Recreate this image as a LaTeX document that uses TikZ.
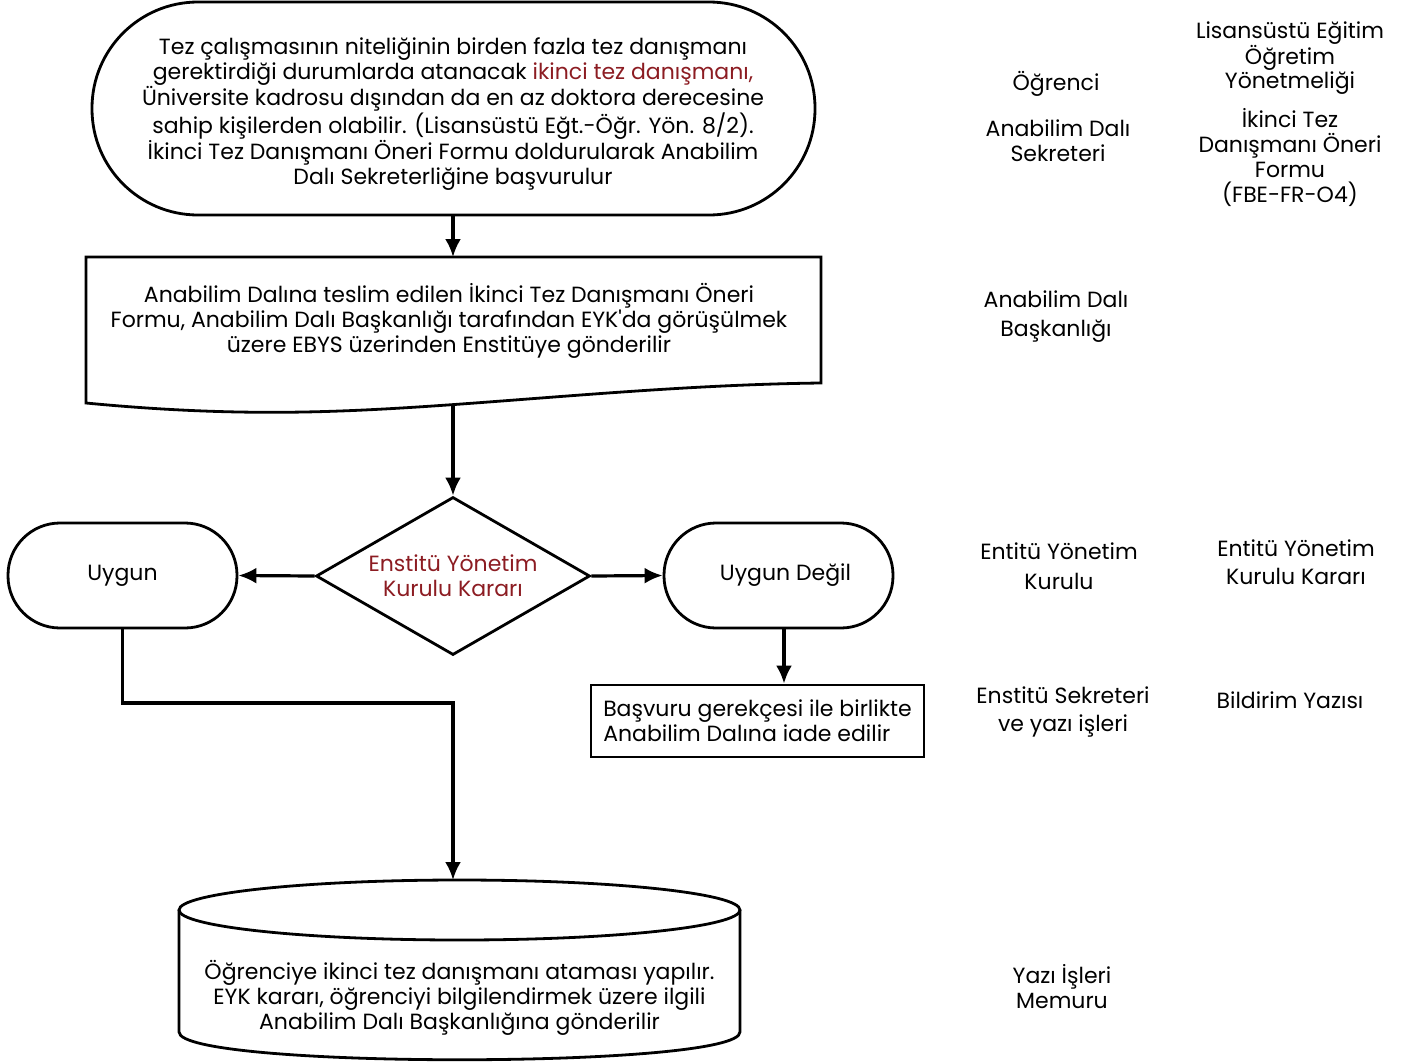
\documentclass[tikz,border=0pt]{standalone}
\usepackage{fontspec}
\setmainfont{Poppins}
\newfontfamily\pop{Poppins}
\usetikzlibrary{shapes.geometric,arrows.meta,calc}
\definecolor{dred}{RGB}{140,28,34}
\tikzset{
  txt/.style={align=center,font=\pop\fontsize{22}{25}\selectfont,inner sep=0pt},
  shp/.style={draw,line width=2.8pt},
  arr/.style={line width=3.2pt,-{Latex[length=18pt,width=16pt]}},
}
\begin{document}
\begin{tikzpicture}[x=1pt,y=-1pt]
\useasboundingbox (0,0) rectangle (1410,1063);
% start terminal
\node[shp,rounded corners=106pt,minimum width=723pt,minimum height=213pt,inner sep=0pt] (start) at (453.5,108.5) {};
\node[txt] (starttext) at (453,114)
 {Tez çalışmasının niteliğinin birden fazla tez danışmanı\\
  gerektirdiği durumlarda atanacak \textcolor{dred}{ikinci tez danışmanı,}\\
  Üniversite kadrosu dışından da en az doktora derecesine\\
  sahip kişilerden olabilir. (Lisansüstü Eğt.-Öğr. Yön. 8/2).\\
  İkinci Tez Danışmanı Öneri Formu doldurularak Anabilim\\
  Dalı Sekreterliğine başvurulur};
% document shape
\draw[shp,line join=miter] (86,257) -- (821,257) -- (821,383)
  .. controls (650,385) and (480,406) .. (340,411)
  .. controls (260,414) and (180,412) .. (86,403) -- cycle;
\node[txt] (doc) at (449,321)
 {Anabilim Dalına teslim edilen İkinci Tez Danışmanı Öneri\\
  Formu, Anabilim Dalı Başkanlığı tarafından EYK'da görüşülmek\\
  üzere EBYS üzerinden Enstitüye gönderilir};
\coordinate (doctop) at (453,257);
\coordinate (docbot) at (453,404);
% decision
\node[shp,diamond,aspect=1.734,minimum width=274pt,minimum height=158pt,inner sep=0pt,txt,text=dred] (dec) at (453,576)
 {Enstitü Yönetim\\Kurulu Kararı};
% terminals
\node[shp,rounded corners=52pt,minimum width=229pt,minimum height=105pt,txt] (yes) at (122.5,575.5) {Uygun};
\node[shp,rounded corners=52pt,minimum width=229pt,minimum height=105pt,txt] (no) at (778.5,575.5) {\hspace*{14pt}Uygun Değil};
% return box
\node[shp,minimum width=333pt,minimum height=72pt,txt,align=left] (ret) at (757.5,721)
 {Başvuru gerekçesi ile birlikte\\Anabilim Dalına iade edilir};
% cylinder
\draw[shp] (459.5,910) ellipse [x radius=280.5pt, y radius=30pt];
\draw[shp] (179,910) -- (179,1032) .. controls (179,1069) and (740,1069) .. (740,1032) -- (740,910);
\node[txt] (db) at (459.5,998)
 {Öğrenciye ikinci tez danışmanı ataması yapılır.\\
  EYK kararı, öğrenciyi bilgilendirmek üzere ilgili\\
  Anabilim Dalı Başkanlığına gönderilir};
\coordinate (dbtop) at (453,880);
\coordinate (bend) at (453,703);
\coordinate (nobot) at (784,628);
% connectors
\draw[arr] (start.south -| doctop) -- (doctop);
\draw[arr] (docbot) -- (dec.north);
\draw[arr] (dec.west) -- (yes.east);
\draw[arr] (dec.east) -- (no.west);
\draw[arr] (nobot) -- (nobot |- ret.north);
\draw[arr] (yes.south) |- (bend) -- (dbtop);
% right columns
\node[txt] (r1) at (1056,84) {Öğrenci};
\node[txt] (r2) at (1058,141) {Anabilim Dalı\\Sekreteri};
\node[txt,font=\pop\fontsize{22}{24.5}\selectfont] (r3) at (1290,58) {Lisansüstü Eğitim\\Öğretim\\Yönetmeliği};
\node[txt] (r4) at (1290,158) {İkinci Tez\\Danışmanı Öneri\\Formu\\(FBE-FR-O4)};
\node[txt,font=\pop\fontsize{22}{29}\selectfont] (r5) at (1056,317) {Anabilim Dalı\\Başkanlığı};
\node[txt,font=\pop\fontsize{22}{30}\selectfont] (r6) at (1059,566) {Entitü Yönetim\\Kurulu};
\node[txt,font=\pop\fontsize{22}{28}\selectfont] (r7) at (1296,562) {Entitü Yönetim\\Kurulu Kararı};
\node[txt,font=\pop\fontsize{22}{28}\selectfont] (r8) at (1063,712) {Enstitü Sekreteri\\ve yazı işleri};
\node[txt] (r9) at (1290,700) {Bildirim Yazısı};
\node[txt] (r10) at (1062,987) {Yazı İşleri\\Memuru};
\end{tikzpicture}
\end{document}
